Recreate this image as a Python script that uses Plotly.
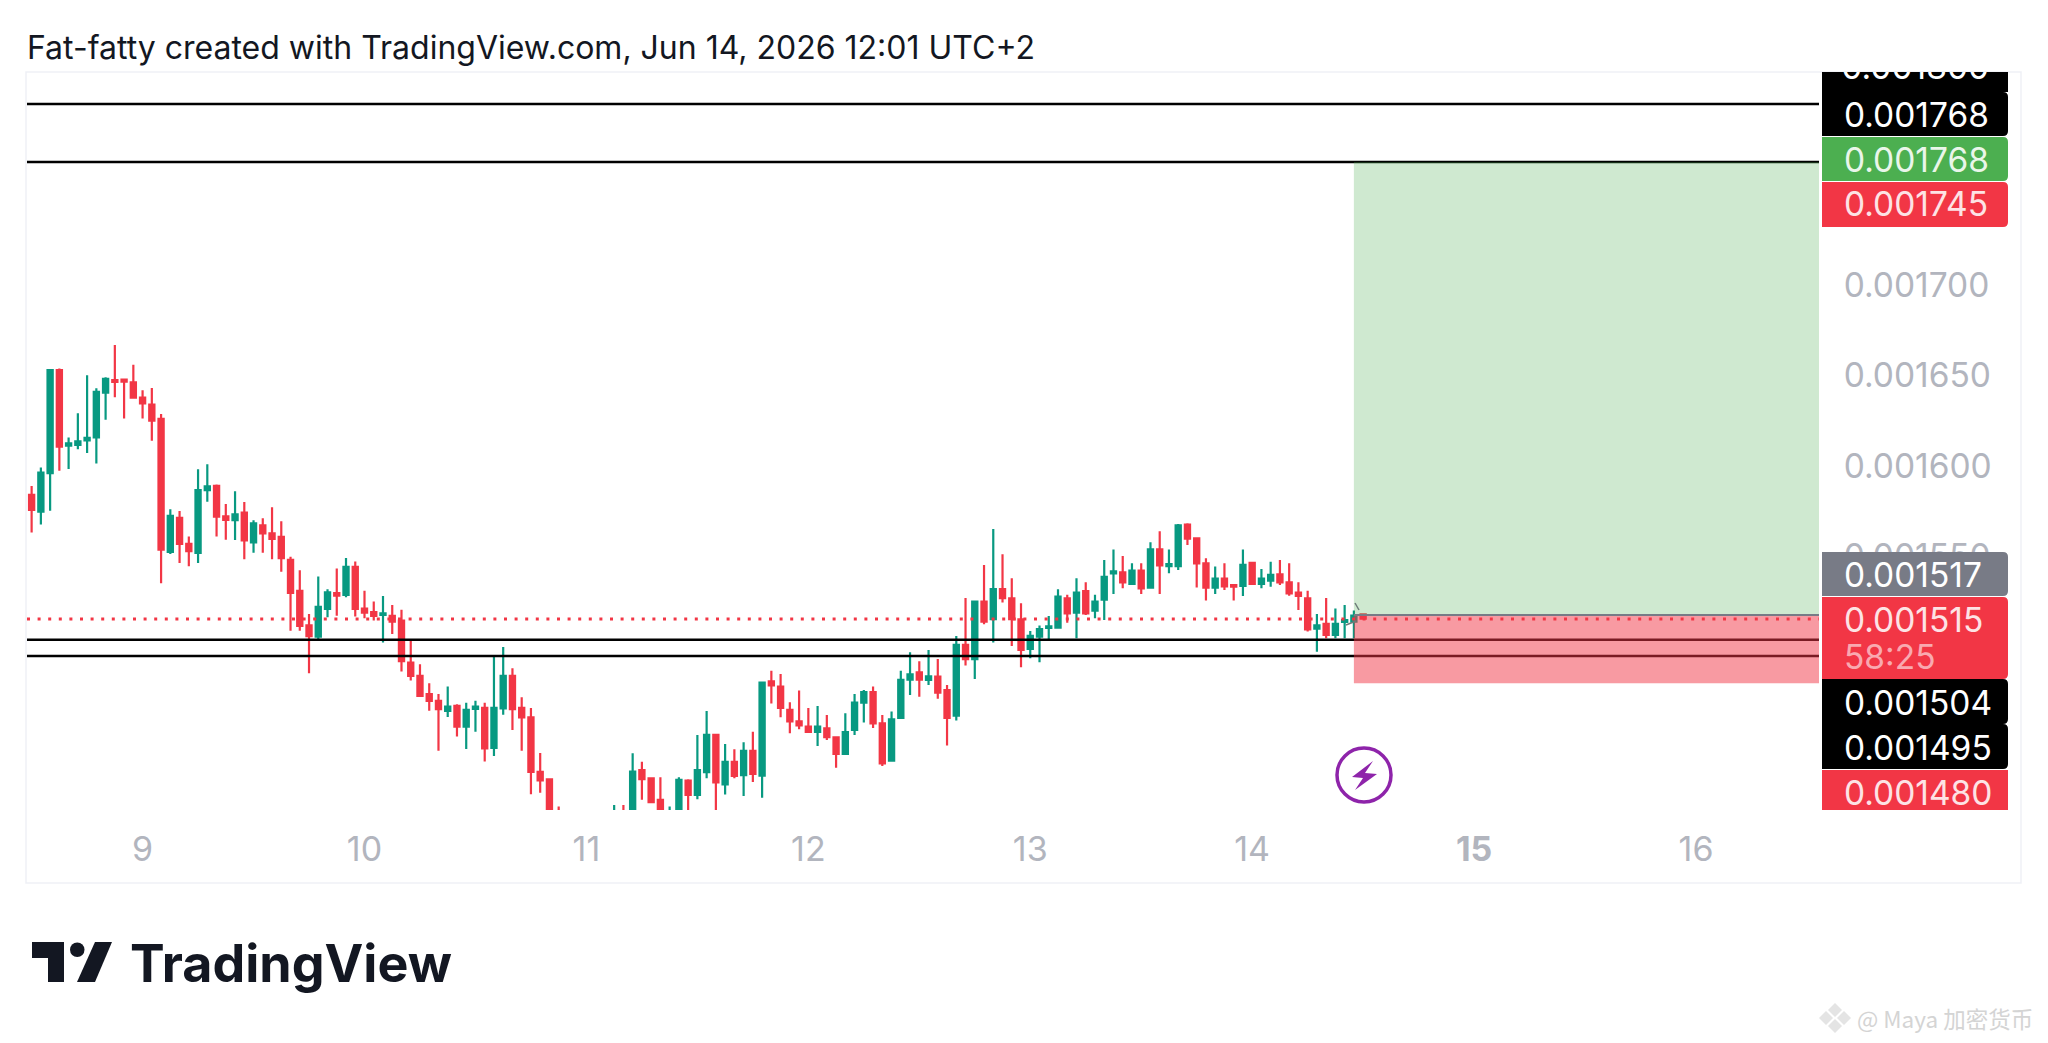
import plotly.graph_objects as go

# prices in millionths, hourly bars; bars 57-64 sit below the visible pane
opens = [1584.0, 1574.8, 1596.0, 1653.0, 1611.2, 1611.6, 1614.2, 1615.8, 1640.5, 1647.5,
         1647.7, 1646.2, 1637.8, 1633.9, 1626.0, 1552.5, 1571.3, 1556.9, 1551.9, 1586.7,
         1589.0, 1572.2, 1570.0, 1574.2, 1557.8, 1567.2, 1562.8, 1560.8, 1548.1, 1531.0,
         1512.0, 1505.7, 1521.0, 1529.7, 1528.7, 1544.2, 1521.2, 1519.2, 1517.7, 1517.2,
         1514.6, 1491.4, 1484.0, 1474.0, 1470.2, 1464.7, 1467.4, 1456.0, 1465.7, 1466.3,
         1444.2, 1466.1, 1484.0, 1466.3, 1461.1, 1431.0, 1426.9, 1402.0, 1398.0, 1392.0,
         1390.0, 1394.0, 1390.0, 1395.0, 1405.0, 1400.0, 1432.0, 1427.4, 1415.5, 1398.0,
         1404.0, 1426.1, 1418.2, 1430.8, 1451.4, 1424.1, 1436.5, 1429.1, 1442.6, 1428.9,
         1481.0, 1478.1, 1465.2, 1458.9, 1456.0, 1453.0, 1455.0, 1450.1, 1440.9, 1454.1,
         1469.2, 1475.1, 1457.8, 1437.2, 1460.8, 1481.9, 1486.0, 1481.8, 1483.6, 1476.2,
         1462.0, 1501.1, 1493.2, 1525.0, 1515.3, 1531.9, 1526.9, 1515.3, 1498.9, 1505.7,
         1510.5, 1510.7, 1526.9, 1519.0, 1530.9, 1520.1, 1526.1, 1540.7, 1541.2, 1534.8,
         1542.2, 1532.8, 1553.9, 1544.6, 1544.7, 1567.6, 1560.0, 1546.2, 1532.8, 1537.7,
         1534.2, 1533.7, 1546.4, 1534.8, 1536.6, 1540.1, 1535.7, 1530.0, 1526.9, 1510.1,
         1512.7, 1506.6, 1513.8, 1514.0, 1518.0]
highs = [1589.0, 1599.1, 1653.0, 1653.8, 1615.8, 1629.1, 1650.1, 1642.9, 1649.0, 1666.8,
         1648.2, 1656.0, 1641.8, 1643.1, 1628.7, 1576.1, 1575.1, 1561.0, 1598.2, 1600.9,
         1589.7, 1579.0, 1586.0, 1580.1, 1570.0, 1571.1, 1577.2, 1569.4, 1549.9, 1542.4,
         1518.2, 1538.9, 1531.9, 1543.3, 1549.2, 1547.2, 1531.1, 1525.1, 1528.2, 1523.2,
         1520.5, 1504.2, 1490.4, 1480.0, 1474.0, 1478.1, 1468.3, 1469.2, 1470.2, 1469.2,
         1495.0, 1500.0, 1488.2, 1472.2, 1466.3, 1441.4, 1426.9, 1411.8, 1404.0, 1398.0,
         1396.0, 1400.0, 1398.0, 1412.7, 1412.7, 1441.2, 1436.6, 1428.0, 1428.0, 1411.8,
         1428.0, 1426.9, 1451.4, 1464.6, 1451.8, 1446.4, 1443.4, 1447.3, 1453.2, 1480.8,
         1486.9, 1485.1, 1469.4, 1476.0, 1466.3, 1467.4, 1462.4, 1450.1, 1463.3, 1474.0,
         1476.2, 1478.1, 1462.4, 1464.3, 1486.9, 1497.0, 1492.1, 1498.3, 1493.4, 1479.0,
         1506.1, 1527.1, 1525.0, 1545.3, 1565.2, 1551.2, 1537.9, 1524.1, 1508.8, 1511.8,
         1517.1, 1531.9, 1528.9, 1537.9, 1535.7, 1528.9, 1548.1, 1553.9, 1550.3, 1546.2,
         1546.2, 1557.8, 1563.9, 1553.9, 1567.9, 1568.3, 1560.6, 1549.0, 1544.4, 1546.2,
         1534.2, 1553.9, 1547.1, 1543.1, 1547.1, 1548.1, 1546.2, 1535.7, 1531.1, 1518.2,
         1527.1, 1521.3, 1523.2, 1520.1, 1518.0]
lows = [1563.2, 1567.6, 1575.3, 1597.4, 1598.3, 1609.2, 1607.2, 1601.3, 1625.6, 1638.0,
        1626.2, 1637.8, 1626.2, 1614.0, 1535.2, 1551.4, 1546.4, 1544.6, 1546.4, 1580.3,
        1561.0, 1559.3, 1559.1, 1548.4, 1552.1, 1552.1, 1548.4, 1541.6, 1509.0, 1509.0,
        1485.5, 1503.5, 1516.4, 1517.3, 1527.4, 1516.8, 1515.8, 1514.6, 1502.4, 1507.2,
        1486.4, 1481.4, 1472.6, 1464.8, 1442.7, 1461.3, 1450.5, 1443.6, 1453.2, 1436.7,
        1439.8, 1462.6, 1454.1, 1442.7, 1418.6, 1419.5, 1398.0, 1385.0, 1382.0, 1380.0,
        1380.0, 1382.0, 1380.0, 1390.0, 1392.0, 1395.0, 1415.5, 1414.2, 1400.0, 1394.0,
        1400.0, 1408.0, 1415.8, 1427.4, 1408.0, 1418.4, 1427.4, 1417.7, 1425.4, 1416.7,
        1468.7, 1461.1, 1452.3, 1454.5, 1452.8, 1445.3, 1448.6, 1433.3, 1440.7, 1451.4,
        1458.2, 1455.2, 1434.2, 1437.0, 1460.4, 1473.5, 1472.5, 1479.0, 1471.4, 1445.5,
        1459.3, 1489.7, 1482.3, 1512.5, 1502.4, 1524.5, 1500.5, 1488.8, 1493.7, 1491.5,
        1503.5, 1510.3, 1513.4, 1504.8, 1517.7, 1515.8, 1514.9, 1529.3, 1532.4, 1534.8,
        1529.3, 1532.4, 1529.3, 1540.7, 1542.5, 1556.3, 1532.9, 1525.6, 1529.3, 1531.5,
        1525.6, 1528.2, 1534.2, 1532.4, 1533.3, 1534.2, 1528.3, 1520.4, 1508.5, 1497.4,
        1504.8, 1504.8, 1504.8, 1504.8, 1515.3]
closes = [1575.7, 1596.3, 1653.0, 1610.7, 1612.5, 1613.6, 1615.5, 1640.9, 1648.2, 1646.4,
          1646.6, 1637.8, 1634.6, 1625.0, 1553.8, 1572.4, 1556.9, 1552.9, 1586.7, 1588.8,
          1572.0, 1570.2, 1573.3, 1558.9, 1568.3, 1562.8, 1559.7, 1549.0, 1529.8, 1511.6,
          1505.9, 1522.1, 1530.2, 1528.4, 1544.2, 1521.0, 1519.0, 1517.2, 1518.6, 1514.0,
          1492.1, 1484.0, 1473.0, 1470.2, 1465.6, 1467.0, 1456.0, 1465.2, 1467.0, 1444.0,
          1466.3, 1484.0, 1465.6, 1461.1, 1431.0, 1426.2, 1404.0, 1390.0, 1392.0, 1390.0,
          1394.0, 1390.0, 1395.0, 1405.0, 1398.0, 1431.1, 1426.9, 1414.2, 1404.0, 1404.0,
          1426.5, 1418.2, 1432.0, 1451.4, 1425.1, 1436.5, 1428.7, 1442.6, 1429.8, 1480.3,
          1478.8, 1466.3, 1458.9, 1456.7, 1453.0, 1456.0, 1450.1, 1440.9, 1453.0, 1469.2,
          1475.1, 1457.8, 1435.7, 1460.0, 1481.8, 1484.9, 1481.9, 1483.8, 1474.8, 1460.8,
          1501.1, 1493.2, 1525.0, 1514.0, 1531.9, 1526.9, 1515.3, 1498.3, 1506.1, 1509.9,
          1511.4, 1527.8, 1518.6, 1530.0, 1518.6, 1525.0, 1538.8, 1541.8, 1535.7, 1542.2,
          1532.4, 1553.9, 1545.1, 1545.8, 1567.2, 1559.8, 1546.2, 1532.8, 1537.7, 1533.5,
          1533.3, 1545.3, 1534.8, 1537.7, 1539.9, 1535.7, 1529.6, 1528.2, 1509.7, 1512.0,
          1506.6, 1512.7, 1514.9, 1517.3, 1515.6]

day_bars = [12, 36, 60, 84, 108, 132, 156, 180]
day_labels = ["9", "10", "11", "12", "13", "14", "<b>15</b>", "16"]
price_ticks = [1550, 1600, 1650, 1700]
price_tick_labels = ["0.001550", "0.001600", "0.001650", "0.001700"]
level_lines = [1800, 1768, 1504, 1495]
last_price = 1515.5
entry_price = 1517.6
target_price = 1768
stop_price = 1480
entry_bar = 143

W = 2048
H = 1043
GREEN = "#089981"
RED = "#F23645"
GREY_TEXT = "#b2b5be"
FONT = "Inter"
PRICE_SIZE = 33.5
bars = list(range(len(opens)))


def px(v):
    return v / W


def py(v):
    return 1 - v / H


def box(x0, y0, x1, y1, fill, layer="above", r=5):
    # price labels: square on the left, rounded on the right
    x0, x1 = px(x0), px(x1)
    y0, y1 = py(y0), py(y1)
    rx, ry = r / W, r / H
    path = (f"M {x0} {y0} L {x1 - rx} {y0} Q {x1} {y0} {x1} {y0 - ry} "
            f"L {x1} {y1 + ry} Q {x1} {y1} {x1 - rx} {y1} L {x0} {y1} Z")
    return dict(type="path", xref="paper", yref="paper", path=path,
                fillcolor=fill, line=dict(width=0), layer=layer)


def poly(points, fill, layer="above"):
    path = "M " + " L ".join(f"{px(x)} {py(y)}" for x, y in points) + " Z"
    return dict(type="path", xref="paper", yref="paper", path=path,
                fillcolor=fill, line=dict(width=0), layer=layer)


def label(x, y, text, size=PRICE_SIZE, color="white", anchor="left", font=FONT):
    return dict(x=px(x), y=py(y), xref="paper", yref="paper", text=text, showarrow=False,
                xanchor=anchor, yanchor="middle", font=dict(family=font, size=size, color=color))


fig = go.Figure()

fig.add_trace(go.Candlestick(
    x=bars,
    open=[v / 1e6 for v in opens],
    high=[v / 1e6 for v in highs],
    low=[v / 1e6 for v in lows],
    close=[v / 1e6 for v in closes],
    increasing=dict(line=dict(color=GREEN, width=2.2), fillcolor=GREEN),
    decreasing=dict(line=dict(color=RED, width=2.2), fillcolor=RED),
    whiskerwidth=0,
    hoverinfo="skip",
))

x_span = [-0.5, 193.3]

fig.add_trace(go.Scatter(
    x=x_span, y=[last_price / 1e6] * 2, mode="lines", hoverinfo="skip",
    line=dict(color=RED, width=3, dash="3px,7.6px"),
))
for level in level_lines:
    fig.add_trace(go.Scatter(
        x=x_span, y=[level / 1e6] * 2, mode="lines", hoverinfo="skip",
        line=dict(color="black", width=2.5),
    ))

# clipped stacked label at the very top of the price scale
fig.add_trace(go.Scatter(
    x=[0.11], y=[1818.4 / 1e6], mode="text", text=["0.001800"], textposition="middle right",
    textfont=dict(family=FONT, size=PRICE_SIZE, color="white"), cliponaxis=True,
    xaxis="x2", yaxis="y2", hoverinfo="skip",
))

shapes = [
    # pane frame
    dict(type="rect", xref="paper", yref="paper", x0=px(26), x1=px(2021), y0=py(72), y1=py(883),
         line=dict(color="#eff1f6", width=1.5), layer="below"),
    # long position zones
    dict(type="rect", x0=entry_bar, x1=x_span[1], y0=entry_price / 1e6, y1=target_price / 1e6,
         fillcolor="rgba(76,175,80,0.27)", line=dict(width=0), layer="above"),
    dict(type="rect", x0=entry_bar, x1=x_span[1], y0=stop_price / 1e6, y1=entry_price / 1e6,
         fillcolor="rgba(242,54,69,0.5)", line=dict(width=0), layer="above"),
    dict(type="line", x0=entry_bar, x1=x_span[1], y0=entry_price / 1e6, y1=entry_price / 1e6,
         line=dict(color="#787b86", width=2), layer="above"),
    # small arrow drawn at the last bars
    dict(type="path", xref="paper", yref="paper", layer="above",
         path=f"M {px(1346)} {py(625)} L {px(1356)} {py(621)}",
         line=dict(color="#6d7a78", width=1.5)),
    dict(type="path", xref="paper", yref="paper", layer="above",
         path=f"M {px(1355)} {py(603)} L {px(1359)} {py(610)}",
         line=dict(color="#6d7a78", width=1.5)),
    # price labels
    box(1822, 72, 2008, 92, "#000000", layer="below", r=0),
    box(1822, 92, 2008, 136, "#000000"),
    box(1822, 137, 2008, 181, "#4CAF50"),
    box(1822, 182, 2008, 227, RED),
    box(1822, 552, 2008, 596, "#787B86"),
    box(1822, 597, 2008, 679, RED),
    box(1822, 679, 2008, 724, "#000000"),
    box(1822, 724, 2008, 769, "#000000"),
    box(1822, 770, 2008, 810, RED, r=0),
    # lightning badge
    dict(type="circle", xref="paper", yref="paper", x0=px(1337), x1=px(1391), y0=py(748), y1=py(802),
         line=dict(color="#8E24AA", width=3.5), fillcolor="rgba(0,0,0,0)", layer="above"),
    poly([(1373, 761), (1352, 777), (1363, 778), (1355, 790), (1377, 774), (1365, 773)], "#8E24AA"),
    # TradingView mark
    poly([(32, 942), (64, 942), (64, 982), (48, 982), (48, 958), (32, 958)], "#131722"),
    dict(type="circle", xref="paper", yref="paper", x0=px(70), x1=px(84.5), y0=py(942.5), y1=py(957),
         fillcolor="#131722", line=dict(width=0), layer="above"),
    poly([(95, 942), (112, 942), (95, 982), (77, 982)], "#131722"),
    # watermark diamonds
    poly([(1835, 1003), (1842, 1010), (1835, 1017), (1828, 1010)], "#e4e4e4"),
    poly([(1826, 1011), (1833, 1018), (1826, 1025), (1819, 1018)], "#e4e4e4"),
    poly([(1844, 1011), (1851, 1018), (1844, 1025), (1837, 1018)], "#e4e4e4"),
    poly([(1835, 1019), (1842, 1026), (1835, 1033), (1828, 1026)], "#e4e4e4"),
]

annotations = [
    label(25, 47, "Fat-fatty created with TradingView.com, Jun 14, 2026 12:01 UTC+2", size=32, color="#131722"),
    label(1842, 115, "0.001768"),
    label(1842, 160, "0.001768", color="#eaf6ea"),
    label(1842, 204, "0.001745", color="#fde3e5"),
    label(1842, 575, "0.001517"),
    label(1842, 620, "0.001515", color="#fde3e5"),
    label(1842, 657, "58:25", color="#f9a9b0"),
    label(1842, 703, "0.001504"),
    label(1842, 748, "0.001495"),
    label(1842, 793, "0.001480", color="#fde3e5"),
    label(128, 963, "<b>TradingView</b>", size=52, color="#131722"),
    label(1855, 1018, "@ Maya 加密货币", size=22.5, color="#d4d4d4", font="Noto Sans CJK SC"),
]

fig.update_layout(
    width=W,
    height=H,
    margin=dict(l=0, r=0, t=0, b=0),
    paper_bgcolor="white",
    plot_bgcolor="white",
    showlegend=False,
    boxgap=0.2,
    shapes=shapes,
    annotations=annotations,
    xaxis=dict(
        domain=[px(27), px(1819)],
        range=x_span,
        rangeslider=dict(visible=False),
        tickmode="array",
        tickvals=day_bars,
        ticktext=day_labels,
        tickfont=dict(family=FONT, size=34, color=GREY_TEXT),
        ticks="outside",
        ticklen=9,
        tickcolor="rgba(0,0,0,0)",
        showgrid=False,
        zeroline=False,
    ),
    yaxis=dict(
        domain=[py(810), py(72)],
        range=[1409.9 / 1e6, 1817.7 / 1e6],
        side="right",
        tickmode="array",
        tickvals=[v / 1e6 for v in price_ticks],
        ticktext=price_tick_labels,
        tickfont=dict(family=FONT, size=PRICE_SIZE, color=GREY_TEXT),
        ticks="outside",
        ticklen=17,
        tickcolor="rgba(0,0,0,0)",
        showgrid=False,
        zeroline=False,
    ),
    xaxis2=dict(domain=[px(1819), px(2021)], range=[0, 1], visible=False, anchor="y2"),
    yaxis2=dict(domain=[py(810), py(72)], range=[1409.9 / 1e6, 1817.7 / 1e6], visible=False, anchor="x2"),
)

# the page's default body margin would push the chart 8px off
fig.write_html("out.html", config=dict(displayModeBar=False),
               post_script="document.body.style.margin = '0';")
